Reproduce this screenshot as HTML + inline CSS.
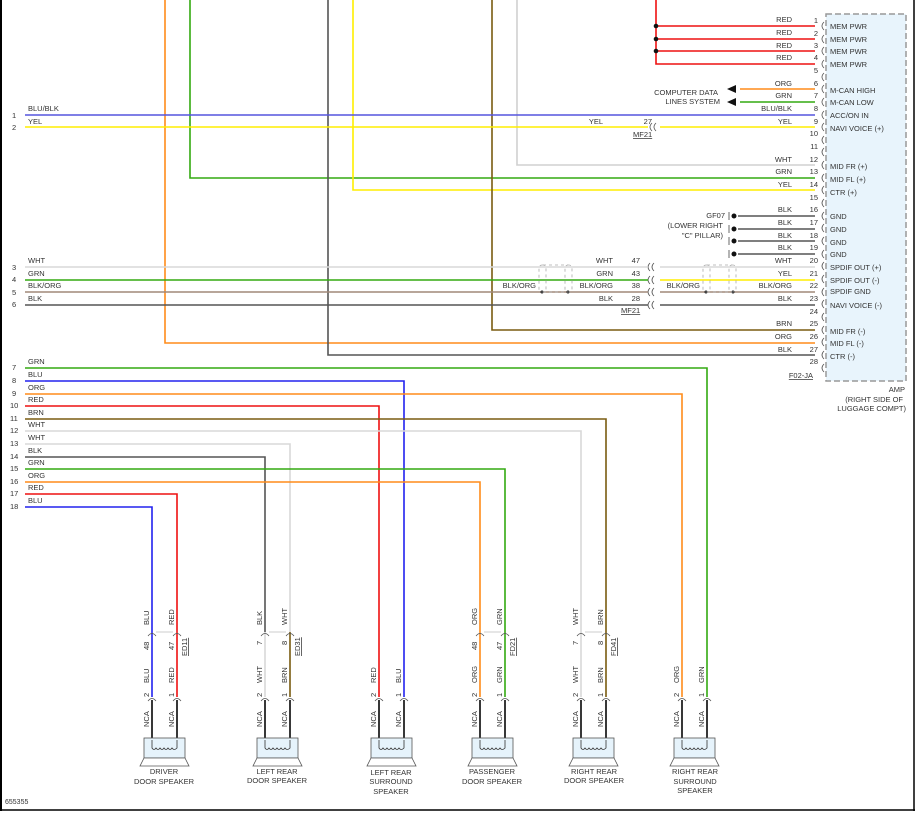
<!DOCTYPE html>
<html><head><meta charset="utf-8"><style>
body{margin:0;background:#fff;}
svg{display:block;font-family:"Liberation Sans",sans-serif;}
text{font-size:7.5px;fill:#333;}
</style></head><body>
<svg width="922" height="816" viewBox="0 0 922 816" xmlns="http://www.w3.org/2000/svg">
<rect x="0" y="0" width="922" height="816" fill="#fff"/>
<line x1="1" y1="0" x2="1" y2="811" stroke="#000" stroke-width="2"/>
<line x1="914" y1="0" x2="914" y2="811" stroke="#000" stroke-width="1.5"/>
<line x1="0" y1="810" x2="915" y2="810" stroke="#000" stroke-width="1.5"/>
<text x="5" y="804" style="font-size:7px">655355</text>

<rect x="826" y="14" width="80" height="367" fill="#e8f4fc" stroke="#999" stroke-width="1.5" stroke-dasharray="6,3"/>
<g style="font-size:7.5px">
<text x="830" y="29">MEM PWR</text><text x="830" y="42">MEM PWR</text><text x="830" y="54">MEM PWR</text><text x="830" y="67">MEM PWR</text>
<text x="830" y="93">M-CAN HIGH</text><text x="830" y="105">M-CAN LOW</text><text x="830" y="118">ACC/ON IN</text><text x="830" y="131">NAVI VOICE (+)</text>
<text x="830" y="169">MID FR (+)</text><text x="830" y="182">MID FL (+)</text><text x="830" y="195">CTR (+)</text>
<text x="830" y="219">GND</text><text x="830" y="232">GND</text><text x="830" y="245">GND</text><text x="830" y="257">GND</text>
<text x="830" y="270">SPDIF OUT (+)</text><text x="830" y="283">SPDIF OUT (-)</text><text x="830" y="294">SPDIF GND</text><text x="830" y="308">NAVI VOICE (-)</text>
<text x="830" y="334">MID FR (-)</text><text x="830" y="346">MID FL (-)</text><text x="830" y="359">CTR (-)</text>
</g>
<text x="905" y="392" text-anchor="end">AMP</text>
<text x="903" y="402" text-anchor="end">(RIGHT SIDE OF</text>
<text x="906" y="411" text-anchor="end">LUGGAGE COMPT)</text>

<g text-anchor="end">
<text x="818" y="23">1</text><text x="818" y="36">2</text><text x="818" y="48">3</text><text x="818" y="60">4</text><text x="818" y="73">5</text><text x="818" y="86">6</text><text x="818" y="98">7</text><text x="818" y="111">8</text><text x="818" y="124">9</text><text x="818" y="136">10</text><text x="818" y="149">11</text><text x="818" y="162">12</text><text x="818" y="174">13</text><text x="818" y="187">14</text><text x="818" y="200">15</text><text x="818" y="212">16</text><text x="818" y="225">17</text><text x="818" y="238">18</text><text x="818" y="250">19</text><text x="818" y="263">20</text><text x="818" y="276">21</text><text x="818" y="288">22</text><text x="818" y="301">23</text><text x="818" y="314">24</text><text x="818" y="326">25</text><text x="818" y="339">26</text><text x="818" y="352">27</text><text x="818" y="364">28</text>
</g>
<g fill="none" stroke="#555" stroke-width="0.8">
<path d="M824 22 q-4 4 0 8 M824 35 q-4 4 0 8 M824 47 q-4 4 0 8 M824 60 q-4 4 0 8 M824 73 q-4 4 0 8 M824 85 q-4 4 0 8 M824 98 q-4 4 0 8 M824 111 q-4 4 0 8 M824 123 q-4 4 0 8 M824 136 q-4 4 0 8 M824 148 q-4 4 0 8 M824 161 q-4 4 0 8 M824 174 q-4 4 0 8 M824 186 q-4 4 0 8 M824 199 q-4 4 0 8 M824 212 q-4 4 0 8 M824 224 q-4 4 0 8 M824 237 q-4 4 0 8 M824 250 q-4 4 0 8 M824 262 q-4 4 0 8 M824 275 q-4 4 0 8 M824 288 q-4 4 0 8 M824 300 q-4 4 0 8 M824 313 q-4 4 0 8 M824 326 q-4 4 0 8 M824 338 q-4 4 0 8 M824 351 q-4 4 0 8 M824 364 q-4 4 0 8"/>
<path d="M652 123 q-4 4 0 8 M656 123 q-4 4 0 8"/>
<path d="M650 263 q-4 4 0 8 M654 263 q-4 4 0 8 M650 276 q-4 4 0 8 M654 276 q-4 4 0 8 M650 288 q-4 4 0 8 M654 288 q-4 4 0 8 M650 301 q-4 4 0 8 M654 301 q-4 4 0 8"/>
</g>
<text x="813" y="378" text-anchor="end" style="text-decoration:underline">F02-JA</text>

<g fill="none" stroke-width="1.6">
<polyline points="165,0 165,343 815,343" stroke="#ff8c1a"/>
<polyline points="190,0 190,178 815,178" stroke="#33aa11"/>
<polyline points="328,0 328,355 815,355" stroke="#555"/>
<polyline points="353,0 353,190 815,190" stroke="#ffee00"/>
<polyline points="492,0 492,330 815,330" stroke="#7a5c10"/>
<polyline points="517,0 517,165 815,165" stroke="#d0d0d0"/>
<polyline points="656,0 656,64 815,64" stroke="#ee1111"/>
<line x1="656" y1="26" x2="815" y2="26" stroke="#ee1111"/>
<line x1="656" y1="39" x2="815" y2="39" stroke="#ee1111"/>
<line x1="656" y1="51" x2="815" y2="51" stroke="#ee1111"/>
<line x1="740" y1="89" x2="815" y2="89" stroke="#ff8c1a"/>
<line x1="740" y1="102" x2="815" y2="102" stroke="#33aa11"/>
<line x1="25" y1="115" x2="815" y2="115" stroke="#5555dd"/>
<line x1="25" y1="127" x2="648" y2="127" stroke="#ffee00"/>
<line x1="660" y1="127" x2="815" y2="127" stroke="#ffee00"/>
<line x1="738" y1="216" x2="815" y2="216" stroke="#555"/>
<line x1="738" y1="229" x2="815" y2="229" stroke="#555"/>
<line x1="738" y1="241" x2="815" y2="241" stroke="#555"/>
<line x1="738" y1="254" x2="815" y2="254" stroke="#555"/>
<line x1="25" y1="267" x2="648" y2="267" stroke="#d8d8d8"/>
<line x1="660" y1="267" x2="815" y2="267" stroke="#d8d8d8"/>
<line x1="25" y1="280" x2="648" y2="280" stroke="#33aa11"/>
<line x1="660" y1="280" x2="815" y2="280" stroke="#ffee00"/>
<line x1="25" y1="292" x2="648" y2="292" stroke="#a08878"/>
<line x1="660" y1="292" x2="815" y2="292" stroke="#a08878"/>
<line x1="25" y1="305" x2="648" y2="305" stroke="#555"/>
<line x1="660" y1="305" x2="815" y2="305" stroke="#555"/>
<polyline points="25,368 707,368 707,697" stroke="#33aa11"/>
<polyline points="25,381 404,381 404,697" stroke="#2222ee"/>
<polyline points="25,394 682,394 682,697" stroke="#ff8c1a"/>
<polyline points="25,406 379,406 379,697" stroke="#ee1111"/>
<polyline points="25,419 606,419 606,697" stroke="#7a5c10"/>
<polyline points="25,431 581,431 581,697" stroke="#d8d8d8"/>
<polyline points="25,444 290,444 290,632" stroke="#d8d8d8"/>
<polyline points="25,457 265,457 265,632" stroke="#555"/>
<polyline points="25,469 505,469 505,697" stroke="#33aa11"/>
<polyline points="25,482 480,482 480,697" stroke="#ff8c1a"/>
<polyline points="25,494 177,494 177,697" stroke="#ee1111"/>
<polyline points="25,507 152,507 152,697" stroke="#2222ee"/>
<line x1="265" y1="632" x2="265" y2="697" stroke="#d8d8d8"/>
<line x1="290" y1="632" x2="290" y2="697" stroke="#7a5c10"/>
<g stroke="#222" stroke-width="1.8">
<line x1="152" y1="700" x2="152" y2="740"/><line x1="177" y1="700" x2="177" y2="740"/>
<line x1="265" y1="700" x2="265" y2="740"/><line x1="290" y1="700" x2="290" y2="740"/>
<line x1="379" y1="700" x2="379" y2="740"/><line x1="404" y1="700" x2="404" y2="740"/>
<line x1="480" y1="700" x2="480" y2="740"/><line x1="505" y1="700" x2="505" y2="740"/>
<line x1="581" y1="700" x2="581" y2="740"/><line x1="606" y1="700" x2="606" y2="740"/>
<line x1="682" y1="700" x2="682" y2="740"/><line x1="707" y1="700" x2="707" y2="740"/>
</g>
</g>
<g fill="#111"><circle cx="656" cy="26" r="2.3"/><circle cx="656" cy="39" r="2.3"/><circle cx="656" cy="51" r="2.3"/>
<circle cx="734" cy="216" r="2.5"/><circle cx="734" cy="229" r="2.5"/><circle cx="734" cy="241" r="2.5"/><circle cx="734" cy="254" r="2.5"/>
<circle cx="542" cy="292" r="1.5"/><circle cx="568" cy="292" r="1.5"/><circle cx="706" cy="292" r="1.5"/><circle cx="733" cy="292" r="1.5"/></g>
<g stroke="#444" stroke-width="0.8"><line x1="729" y1="212" x2="729" y2="220"/><line x1="729" y1="225" x2="729" y2="233"/><line x1="729" y1="237" x2="729" y2="245"/><line x1="729" y1="250" x2="729" y2="258"/></g>
<polygon points="727,89 736,85 736,93" fill="#111"/><polygon points="727,102 736,98 736,106" fill="#111"/>
<text x="718" y="95" text-anchor="end">COMPUTER DATA</text><text x="720" y="104" text-anchor="end">LINES SYSTEM</text>
<text x="725" y="218" text-anchor="end">GF07</text><text x="723" y="228" text-anchor="end">(LOWER RIGHT</text><text x="723" y="238" text-anchor="end">"C" PILLAR)</text>
<g fill="none" stroke="#aaa" stroke-width="0.8" stroke-dasharray="3,3">
<rect x="539" y="265" width="7" height="27" rx="3"/><rect x="565" y="265" width="7" height="27" rx="3"/><line x1="543" y1="265" x2="568" y2="265"/><line x1="543" y1="292" x2="568" y2="292"/>
<rect x="703" y="265" width="7" height="27" rx="3"/><rect x="729" y="265" width="7" height="27" rx="3"/><line x1="707" y1="265" x2="732" y2="265"/><line x1="707" y1="292" x2="732" y2="292"/>
</g>
<g text-anchor="end">
<text x="792" y="22">RED</text><text x="792" y="35">RED</text><text x="792" y="48">RED</text><text x="792" y="60">RED</text>
<text x="792" y="86">ORG</text><text x="792" y="98">GRN</text><text x="792" y="111">BLU/BLK</text><text x="792" y="124">YEL</text>
<text x="792" y="162">WHT</text><text x="792" y="174">GRN</text><text x="792" y="187">YEL</text>
<text x="792" y="212">BLK</text><text x="792" y="225">BLK</text><text x="792" y="238">BLK</text><text x="792" y="250">BLK</text>
<text x="792" y="263">WHT</text><text x="792" y="276">YEL</text><text x="792" y="288">BLK/ORG</text><text x="792" y="301">BLK</text>
<text x="792" y="326">BRN</text><text x="792" y="339">ORG</text><text x="792" y="352">BLK</text>
<text x="700" y="288">BLK/ORG</text>
<text x="603" y="124">YEL</text><text x="652" y="124">27</text>
<text x="613" y="263">WHT</text><text x="613" y="276">GRN</text><text x="613" y="288">BLK/ORG</text><text x="613" y="301">BLK</text>
<text x="640" y="263">47</text><text x="640" y="276">43</text><text x="640" y="288">38</text><text x="640" y="301">28</text>
<text x="536" y="288">BLK/ORG</text>
</g>
<text x="633" y="137" style="text-decoration:underline">MF21</text>
<text x="621" y="313" style="text-decoration:underline">MF21</text>
<g>
<text x="12" y="118">1</text><text x="12" y="130">2</text><text x="12" y="270">3</text><text x="12" y="282">4</text><text x="12" y="295">5</text><text x="12" y="307">6</text>
<text x="12" y="370">7</text><text x="12" y="383">8</text><text x="12" y="396">9</text><text x="10" y="408">10</text><text x="10" y="421">11</text><text x="10" y="433">12</text><text x="10" y="446">13</text><text x="10" y="459">14</text><text x="10" y="471">15</text><text x="10" y="484">16</text><text x="10" y="496">17</text><text x="10" y="509">18</text>
<text x="28" y="111">BLU/BLK</text><text x="28" y="124">YEL</text>
<text x="28" y="263">WHT</text><text x="28" y="276">GRN</text><text x="28" y="288">BLK/ORG</text><text x="28" y="301">BLK</text>
<text x="28" y="364">GRN</text><text x="28" y="377">BLU</text><text x="28" y="390">ORG</text><text x="28" y="402">RED</text><text x="28" y="415">BRN</text><text x="28" y="427">WHT</text><text x="28" y="440">WHT</text><text x="28" y="453">BLK</text><text x="28" y="465">GRN</text><text x="28" y="478">ORG</text><text x="28" y="490">RED</text><text x="28" y="503">BLU</text>
</g>

<g fill="none" stroke="#555" stroke-width="0.8">
<path d="M148 636 q4 -5 8 0 M173 636 q4 -5 8 0 M261 636 q4 -5 8 0 M286 636 q4 -5 8 0 M476 636 q4 -5 8 0 M501 636 q4 -5 8 0 M577 636 q4 -5 8 0 M602 636 q4 -5 8 0"/>
<path d="M148 701 q4 -5 8 0 M173 701 q4 -5 8 0 M261 701 q4 -5 8 0 M286 701 q4 -5 8 0 M375 701 q4 -5 8 0 M400 701 q4 -5 8 0 M476 701 q4 -5 8 0 M501 701 q4 -5 8 0 M577 701 q4 -5 8 0 M602 701 q4 -5 8 0 M678 701 q4 -5 8 0 M703 701 q4 -5 8 0"/>
</g>
<g stroke="#ccc" stroke-width="1"><line x1="156" y1="632" x2="173" y2="632"/><line x1="269" y1="632" x2="286" y2="632"/><line x1="484" y1="632" x2="501" y2="632"/><line x1="585" y1="632" x2="602" y2="632"/></g>

<g style="font-size:7.5px">
<g transform="translate(149,625) rotate(-90)"><text>BLU</text></g><g transform="translate(174,625) rotate(-90)"><text>RED</text></g>
<g transform="translate(149,650) rotate(-90)"><text>48</text></g><g transform="translate(174,650) rotate(-90)"><text>47</text></g>
<g transform="translate(149,683) rotate(-90)"><text>BLU</text></g><g transform="translate(174,683) rotate(-90)"><text>RED</text></g>
<g transform="translate(262,625) rotate(-90)"><text>BLK</text></g><g transform="translate(287,625) rotate(-90)"><text>WHT</text></g>
<g transform="translate(262,645) rotate(-90)"><text>7</text></g><g transform="translate(287,645) rotate(-90)"><text>8</text></g>
<g transform="translate(262,683) rotate(-90)"><text>WHT</text></g><g transform="translate(287,683) rotate(-90)"><text>BRN</text></g>
<g transform="translate(376,683) rotate(-90)"><text>RED</text></g><g transform="translate(401,683) rotate(-90)"><text>BLU</text></g>
<g transform="translate(477,625) rotate(-90)"><text>ORG</text></g><g transform="translate(502,625) rotate(-90)"><text>GRN</text></g>
<g transform="translate(477,650) rotate(-90)"><text>48</text></g><g transform="translate(502,650) rotate(-90)"><text>47</text></g>
<g transform="translate(477,683) rotate(-90)"><text>ORG</text></g><g transform="translate(502,683) rotate(-90)"><text>GRN</text></g>
<g transform="translate(578,625) rotate(-90)"><text>WHT</text></g><g transform="translate(603,625) rotate(-90)"><text>BRN</text></g>
<g transform="translate(578,645) rotate(-90)"><text>7</text></g><g transform="translate(603,645) rotate(-90)"><text>8</text></g>
<g transform="translate(578,683) rotate(-90)"><text>WHT</text></g><g transform="translate(603,683) rotate(-90)"><text>BRN</text></g>
<g transform="translate(679,683) rotate(-90)"><text>ORG</text></g><g transform="translate(704,683) rotate(-90)"><text>GRN</text></g>
<g transform="translate(149,697) rotate(-90)"><text>2</text></g><g transform="translate(174,697) rotate(-90)"><text>1</text></g>
<g transform="translate(262,697) rotate(-90)"><text>2</text></g><g transform="translate(287,697) rotate(-90)"><text>1</text></g>
<g transform="translate(376,697) rotate(-90)"><text>2</text></g><g transform="translate(401,697) rotate(-90)"><text>1</text></g>
<g transform="translate(477,697) rotate(-90)"><text>2</text></g><g transform="translate(502,697) rotate(-90)"><text>1</text></g>
<g transform="translate(578,697) rotate(-90)"><text>2</text></g><g transform="translate(603,697) rotate(-90)"><text>1</text></g>
<g transform="translate(679,697) rotate(-90)"><text>2</text></g><g transform="translate(704,697) rotate(-90)"><text>1</text></g>
<g transform="translate(149,727) rotate(-90)"><text>NCA</text></g><g transform="translate(174,727) rotate(-90)"><text>NCA</text></g>
<g transform="translate(262,727) rotate(-90)"><text>NCA</text></g><g transform="translate(287,727) rotate(-90)"><text>NCA</text></g>
<g transform="translate(376,727) rotate(-90)"><text>NCA</text></g><g transform="translate(401,727) rotate(-90)"><text>NCA</text></g>
<g transform="translate(477,727) rotate(-90)"><text>NCA</text></g><g transform="translate(502,727) rotate(-90)"><text>NCA</text></g>
<g transform="translate(578,727) rotate(-90)"><text>NCA</text></g><g transform="translate(603,727) rotate(-90)"><text>NCA</text></g>
<g transform="translate(679,727) rotate(-90)"><text>NCA</text></g><g transform="translate(704,727) rotate(-90)"><text>NCA</text></g>
<g transform="translate(187,656) rotate(-90)"><text style="text-decoration:underline">ED11</text></g>
<g transform="translate(300,656) rotate(-90)"><text style="text-decoration:underline">ED31</text></g>
<g transform="translate(515,656) rotate(-90)"><text style="text-decoration:underline">FD21</text></g>
<g transform="translate(616,656) rotate(-90)"><text style="text-decoration:underline">FD41</text></g>
</g>

<g fill="#e6f3fb" stroke="#555" stroke-width="0.8">
<rect x="144" y="738" width="41" height="20"/><polygon points="144,758 185,758 189,766 140,766" fill="#fff"/>
<rect x="257" y="738" width="41" height="20"/><polygon points="257,758 298,758 302,766 253,766" fill="#fff"/>
<rect x="371" y="738" width="41" height="20"/><polygon points="371,758 412,758 416,766 367,766" fill="#fff"/>
<rect x="472" y="738" width="41" height="20"/><polygon points="472,758 513,758 517,766 468,766" fill="#fff"/>
<rect x="573" y="738" width="41" height="20"/><polygon points="573,758 614,758 618,766 569,766" fill="#fff"/>
<rect x="674" y="738" width="41" height="20"/><polygon points="674,758 715,758 719,766 670,766" fill="#fff"/>
</g>
<g fill="none" stroke="#333" stroke-width="0.8">
<path d="M152 740 v8 q2 3 4 0 q2 3 4 0 q2 3 4 0 q2 3 4 0 q2 3 4 0 q2 3 5 0 v-8"/>
<path d="M265 740 v8 q2 3 4 0 q2 3 4 0 q2 3 4 0 q2 3 4 0 q2 3 4 0 q2 3 5 0 v-8"/>
<path d="M379 740 v8 q2 3 4 0 q2 3 4 0 q2 3 4 0 q2 3 4 0 q2 3 4 0 q2 3 5 0 v-8"/>
<path d="M480 740 v8 q2 3 4 0 q2 3 4 0 q2 3 4 0 q2 3 4 0 q2 3 4 0 q2 3 5 0 v-8"/>
<path d="M581 740 v8 q2 3 4 0 q2 3 4 0 q2 3 4 0 q2 3 4 0 q2 3 4 0 q2 3 5 0 v-8"/>
<path d="M682 740 v8 q2 3 4 0 q2 3 4 0 q2 3 4 0 q2 3 4 0 q2 3 4 0 q2 3 5 0 v-8"/>
</g>
<g text-anchor="middle">
<text x="164" y="774">DRIVER</text><text x="164" y="784">DOOR SPEAKER</text>
<text x="277" y="774">LEFT REAR</text><text x="277" y="783">DOOR SPEAKER</text>
<text x="391" y="775">LEFT REAR</text><text x="391" y="784">SURROUND</text><text x="391" y="794">SPEAKER</text>
<text x="492" y="774">PASSENGER</text><text x="492" y="784">DOOR SPEAKER</text>
<text x="594" y="774">RIGHT REAR</text><text x="594" y="783">DOOR SPEAKER</text>
<text x="695" y="774">RIGHT REAR</text><text x="695" y="784">SURROUND</text><text x="695" y="793">SPEAKER</text>
</g>
</svg>
</body></html>
